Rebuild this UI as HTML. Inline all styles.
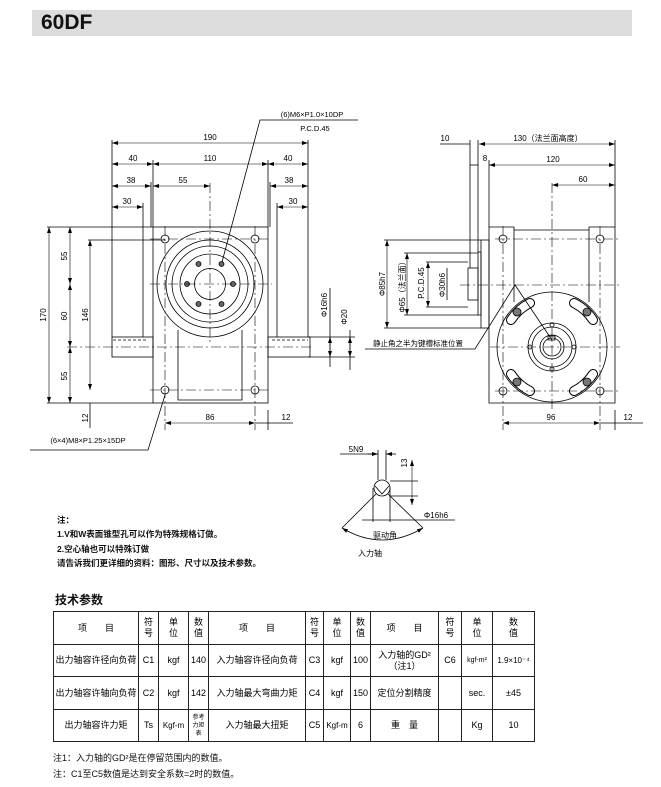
<!DOCTYPE html>
<html><head><meta charset="utf-8"><style>
body{margin:0;width:661px;height:787px;background:#fff;position:relative;overflow:hidden;font-family:"Liberation Sans","Noto Sans CJK SC",sans-serif;}
.bar{position:absolute;left:32px;top:10px;width:600px;height:26px;background:#dcdcdc;}
.bar span{position:absolute;left:9px;top:1px;font-size:21px;font-weight:bold;color:#111;}
svg{position:absolute;left:0;top:0;}
table{position:absolute;left:53px;top:611px;border-collapse:collapse;font-size:9px;table-layout:fixed;width:481px;}
td{border:1px solid #222;text-align:center;padding:0;line-height:11px;white-space:nowrap;overflow:hidden;}
.t{position:absolute;font-size:8.5px;font-weight:bold;color:#111;white-space:nowrap;}
</style></head><body>
<div class="bar"><span>60DF</span></div>
<svg width="661" height="787" viewBox="0 0 661 787" font-family="Liberation Sans, Noto Sans CJK SC, sans-serif" font-size="8">
<defs>
<marker id="a" markerWidth="6" markerHeight="4" refX="6" refY="2" orient="auto-start-reverse" markerUnits="userSpaceOnUse"><path d="M0,0 L6,2 L0,4z" fill="#000"/></marker>
</defs>
<g stroke="#000" stroke-width="0.8" fill="none">
<!-- LEFT VIEW -->
<rect x="153" y="227" width="115" height="176"/>
<line x1="47" y1="227" x2="153" y2="227"/><line x1="47" y1="403" x2="153" y2="403"/>
<path d="M178,330 V400 H242 V330"/>
<circle cx="210" cy="284" r="53" fill="#fff"/>
<circle cx="210" cy="284" r="44"/><circle cx="210" cy="284" r="38"/><circle cx="210" cy="284" r="30"/><circle cx="210" cy="284" r="15.5"/>
<g fill="#666"><circle cx="233" cy="284" r="2.5"/><circle cx="187" cy="284" r="2.5"/><circle cx="221.5" cy="264" r="2.5"/><circle cx="198.5" cy="264" r="2.5"/><circle cx="221.5" cy="304" r="2.5"/><circle cx="198.5" cy="304" r="2.5"/></g>
<circle cx="165" cy="239" r="4"/><circle cx="255" cy="239" r="4"/><circle cx="165" cy="390" r="4"/><circle cx="255" cy="390" r="4"/>
<rect x="112" y="337" width="41" height="20"/><rect x="268" y="337" width="42" height="20"/>
<g stroke-dasharray="10,3,2,3" stroke-width="0.6"><line x1="150" y1="284" x2="272" y2="284"/><line x1="210" y1="183" x2="210" y2="345"/><line x1="67" y1="347" x2="312" y2="347"/>
<line x1="150" y1="239" x2="270" y2="239"/><line x1="150" y1="390" x2="270" y2="390"/><line x1="165" y1="226" x2="165" y2="430"/><line x1="255" y1="226" x2="255" y2="430"/></g>
<line x1="113" y1="340" x2="148" y2="340" stroke-dasharray="3,2"/><line x1="272" y1="340" x2="308" y2="340" stroke-dasharray="3,2"/>
<line x1="112" y1="140" x2="112" y2="337"/><line x1="308" y1="140" x2="308" y2="337"/>
<line x1="153" y1="160" x2="153" y2="227"/><line x1="268" y1="160" x2="268" y2="227"/>
<line x1="151" y1="182" x2="151" y2="227"/><line x1="270" y1="182" x2="270" y2="227"/>
<line x1="143" y1="203" x2="143" y2="337"/><line x1="277" y1="203" x2="277" y2="337"/>
<line x1="268" y1="410" x2="268" y2="430"/>
<line x1="88" y1="240" x2="165" y2="240"/>
<g marker-start="url(#a)" marker-end="url(#a)" stroke-width="0.6">
<line x1="112" y1="143" x2="308" y2="143"/>
<line x1="112" y1="164" x2="153" y2="164"/><line x1="153" y1="164" x2="268" y2="164"/><line x1="268" y1="164" x2="308" y2="164"/>
<line x1="112" y1="186" x2="151" y2="186"/><line x1="153" y1="186" x2="210" y2="186"/><line x1="270" y1="186" x2="308" y2="186"/>
<line x1="112" y1="207" x2="143" y2="207"/><line x1="277" y1="207" x2="308" y2="207"/>
<line x1="49" y1="227" x2="49" y2="403"/>
<line x1="70" y1="227" x2="70" y2="284"/><line x1="70" y1="284" x2="70" y2="347"/><line x1="70" y1="347" x2="70" y2="403"/>
<line x1="90" y1="240" x2="90" y2="390"/>
<line x1="165" y1="423" x2="255" y2="423"/>
<line x1="330" y1="337" x2="330" y2="357"/><line x1="350" y1="337" x2="350" y2="357"/>
</g>
<line x1="90" y1="403" x2="90" y2="428"/><line x1="255" y1="423" x2="293" y2="423"/>
<line x1="330" y1="288" x2="330" y2="367"/><line x1="350" y1="330" x2="350" y2="370"/>
<line x1="308" y1="357" x2="355" y2="357"/><line x1="308" y1="337" x2="355" y2="337"/>
<polyline points="222,262 260,120 358,120"/>
<polyline points="165,395 148,450 30,450"/>

<!-- RIGHT VIEW -->
<path d="M489,227 H514 V230 H589 V227 H615 V403 H489 Z"/>
<line x1="514" y1="230" x2="514" y2="302"/><line x1="589" y1="230" x2="589" y2="302"/>
<rect x="481" y="240" width="8" height="88"/>
<rect x="478" y="252" width="3" height="63"/>
<rect x="468" y="268" width="10" height="32"/>
<circle cx="552" cy="347" r="55" fill="#fff"/>
<g stroke="#000" stroke-width="10" stroke-linecap="round">
<path d="M511,320 A49,49 0 0 1 530,303"/><path d="M593,320 A49,49 0 0 0 574,303"/>
<path d="M511,374 A49,49 0 0 0 530,391"/><path d="M593,374 A49,49 0 0 1 574,391"/></g>
<g stroke="#fff" stroke-width="8" stroke-linecap="round">
<path d="M511,320 A49,49 0 0 1 530,303"/><path d="M593,320 A49,49 0 0 0 574,303"/>
<path d="M511,374 A49,49 0 0 0 530,391"/><path d="M593,374 A49,49 0 0 1 574,391"/></g>
<g fill="#777"><circle cx="517" cy="312" r="4"/><circle cx="587" cy="312" r="4"/><circle cx="517" cy="382" r="4"/><circle cx="587" cy="382" r="4"/></g>
<circle cx="552" cy="347" r="24"/><circle cx="552" cy="347" r="20"/><circle cx="552" cy="347" r="12"/><circle cx="552" cy="347" r="9"/>
<rect x="548" y="336" width="7" height="4"/>
<circle cx="552" cy="325" r="2"/><circle cx="552" cy="369" r="2"/><circle cx="530" cy="347" r="2"/><circle cx="574" cy="347" r="2"/>
<circle cx="503" cy="239" r="4"/><circle cx="600" cy="239" r="4"/><circle cx="503" cy="391" r="4"/><circle cx="600" cy="391" r="4"/>
<g stroke-dasharray="10,3,2,3" stroke-width="0.6"><line x1="460" y1="285" x2="620" y2="285"/><line x1="490" y1="347" x2="620" y2="347"/><line x1="552" y1="183" x2="552" y2="410"/>
<line x1="495" y1="239" x2="620" y2="239"/><line x1="495" y1="391" x2="620" y2="391"/><line x1="503" y1="226" x2="503" y2="430"/><line x1="600" y1="226" x2="600" y2="430"/></g>
<line x1="470" y1="140" x2="470" y2="268"/><line x1="478" y1="140" x2="478" y2="252"/><line x1="489" y1="160" x2="489" y2="227"/><line x1="615" y1="140" x2="615" y2="227"/><line x1="615" y1="410" x2="615" y2="430"/>
<line x1="384" y1="240" x2="481" y2="240"/><line x1="384" y1="328" x2="481" y2="328"/><line x1="404" y1="253" x2="478" y2="253"/><line x1="404" y1="315" x2="478" y2="315"/><line x1="426" y1="262" x2="468" y2="262"/><line x1="426" y1="307" x2="468" y2="307"/>
<line x1="447" y1="268" x2="447" y2="300"/>
<g marker-start="url(#a)" marker-end="url(#a)" stroke-width="0.6">
<line x1="479" y1="144" x2="615" y2="144"/><line x1="489" y1="165" x2="615" y2="165"/><line x1="552" y1="185" x2="615" y2="185"/>
<line x1="387" y1="240" x2="387" y2="328"/><line x1="407" y1="253" x2="407" y2="315"/><line x1="428" y1="262" x2="428" y2="307"/>
<line x1="503" y1="423" x2="600" y2="423"/>
</g>
<line x1="440" y1="144" x2="470" y2="144"/><line x1="470" y1="165" x2="478" y2="165"/>
<line x1="600" y1="423" x2="643" y2="423"/>
<polyline points="365,349 475,349 515,285 552,340"/>

<!-- SMALL VIEW -->
<circle cx="382" cy="488" r="8"/>
<line x1="378" y1="450" x2="378" y2="480"/><line x1="386" y1="450" x2="386" y2="480"/>
<polyline points="375,486 382,494 389,486"/>
<line x1="373" y1="488" x2="373" y2="522"/><line x1="390" y1="488" x2="390" y2="522"/>
<line x1="376" y1="494" x2="342" y2="528"/><line x1="388" y1="494" x2="423" y2="528"/>
<path d="M342,528 Q382,552 423,528" marker-start="url(#a)" marker-end="url(#a)"/>
<line x1="362" y1="520" x2="455" y2="520"/>
<line x1="390" y1="481" x2="418" y2="481"/><line x1="390" y1="496" x2="418" y2="496"/>
<line x1="412" y1="460" x2="412" y2="505" marker-start="url(#a)" marker-end="url(#a)" stroke-width="0.6"/>
<line x1="340" y1="454" x2="378" y2="454"/>
<line x1="368" y1="454" x2="378" y2="454" marker-end="url(#a)"/><line x1="396" y1="454" x2="386" y2="454" marker-end="url(#a)"/>
</g>
<g fill="#000" text-anchor="middle">
<text x="210" y="140">190</text><text x="133" y="161">40</text><text x="210" y="161">110</text><text x="288" y="161">40</text>
<text x="131" y="183">38</text><text x="183" y="183">55</text><text x="289" y="183">38</text>
<text x="127" y="204">30</text><text x="293" y="204">30</text>
<text x="210" y="420">86</text><text x="286" y="420">12</text>
<text x="312" y="117" font-size="7.5">(6)M6×P1.0×10DP</text><text x="315" y="131" font-size="7.5">P.C.D.45</text>
<text x="88" y="443" font-size="7.5">(6×4)M8×P1.25×15DP</text>
<text transform="translate(46,315) rotate(-90)">170</text>
<text transform="translate(67,256) rotate(-90)">55</text><text transform="translate(67,316) rotate(-90)">60</text><text transform="translate(67,376) rotate(-90)">55</text>
<text transform="translate(88,315) rotate(-90)">146</text><text transform="translate(88,418) rotate(-90)">12</text>
<text transform="translate(327,305) rotate(-90)">Φ16h6</text><text transform="translate(347,317) rotate(-90)">Φ20</text>
<text x="445" y="141">10</text><text x="548" y="141">130（法兰面高度）</text><text x="485" y="161">8</text><text x="553" y="162">120</text><text x="583" y="182">60</text>
<text x="551" y="420">96</text><text x="628" y="420">12</text>
<text transform="translate(385,284) rotate(-90)">Φ85h7</text><text transform="translate(405,285) rotate(-90)">Φ65（法兰面）</text>
<text transform="translate(424,283) rotate(-90)">P.C.D.45</text><text transform="translate(445,285) rotate(-90)">Φ30h6</text>
<text x="418" y="346" font-size="7.5">静止角之半为键槽标准位置</text>
<text x="356" y="452">5N9</text><text transform="translate(407,463) rotate(-90)">13</text>
<text x="436" y="518">Φ16h6</text><text x="385" y="538">驱动角</text><text x="370" y="556">入力轴</text>
</g>
</svg>
<div class="t" style="left:57px;top:514px">注：</div>
<div class="t" style="left:57px;top:528px">1.V和W表面锥型孔可以作为特殊规格订做。</div>
<div class="t" style="left:57px;top:543px">2.空心轴也可以特殊订做</div>
<div class="t" style="left:57px;top:557px">请告诉我们更详细的资料：图形、尺寸以及技术参数。</div>
<div class="t" style="left:55px;top:591px;font-size:12px">技术参数</div>
<table>
<colgroup><col style="width:85px"><col style="width:20px"><col style="width:30px"><col style="width:20px"><col style="width:97px"><col style="width:18px"><col style="width:27px"><col style="width:20px"><col style="width:68px"><col style="width:23px"><col style="width:31px"><col style="width:42px"></colgroup>
<tr style="height:33px"><td>项　　目</td><td>符<br>号</td><td>单<br>位</td><td>数<br>值</td><td>项　　目</td><td>符<br>号</td><td>单<br>位</td><td>数<br>值</td><td>项　　目</td><td>符<br>号</td><td>单<br>位</td><td>数<br>值</td></tr>
<tr style="height:32px"><td>出力轴容许径向负荷</td><td>C1</td><td>kgf</td><td>140</td><td>入力轴容许径向负荷</td><td>C3</td><td>kgf</td><td>100</td><td>入力轴的GD²<br>（注1）</td><td>C6</td><td style="font-size:7px">kgf-m²</td><td style="font-size:8px">1.9×10⁻⁴</td></tr>
<tr style="height:33px"><td>出力轴容许轴向负荷</td><td>C2</td><td>kgf</td><td>142</td><td>入力轴最大弯曲力矩</td><td>C4</td><td>kgf</td><td>150</td><td>定位分割精度</td><td></td><td>sec.</td><td>±45</td></tr>
<tr style="height:32px"><td>出力轴容许力矩</td><td>Ts</td><td style="font-size:8px">Kgf-m</td><td style="font-size:6px;line-height:8px">参考<br>力矩<br>表</td><td>入力轴最大扭矩</td><td>C5</td><td style="font-size:8px">Kgf-m</td><td>6</td><td>重　量</td><td></td><td>Kg</td><td>10</td></tr>
</table>
<div class="t" style="left:53px;top:751px;font-size:9px;font-weight:normal">注1：入力轴的GD²是在停留范围内的数值。</div>
<div class="t" style="left:53px;top:767px;font-size:9px;font-weight:normal">注：C1至C5数值是达到安全系数=2时的数值。</div>
</body></html>
